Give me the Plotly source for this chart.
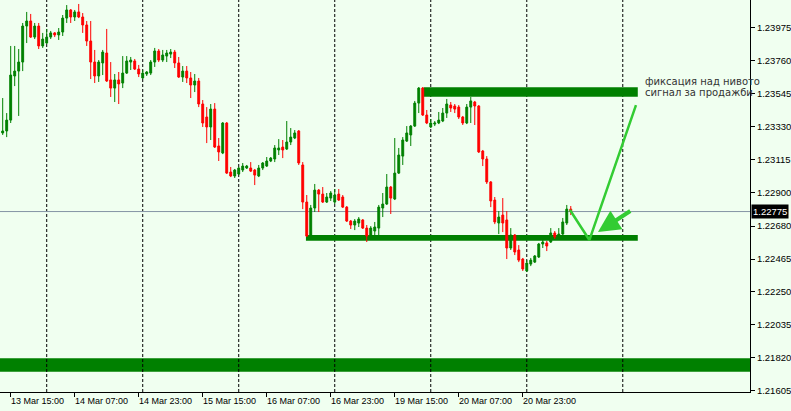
import plotly.graph_objects as go

# ---- data (EURUSD-like H1 candles) ----
open_ = [1.23288, 1.23301, 1.23372, 1.23660, 1.23692, 1.23751, 1.23986, 1.24019, 1.23914, 1.23986,
         1.23856, 1.23875, 1.23914, 1.23941, 1.23928, 1.23947, 1.24038, 1.24091, 1.24045, 1.24078,
         1.24045, 1.23993, 1.23888, 1.23751, 1.23660, 1.23745, 1.23810, 1.23634, 1.23581, 1.23634,
         1.23614, 1.23679, 1.23751, 1.23758, 1.23705, 1.23647, 1.23673, 1.23679, 1.23751, 1.23823,
         1.23764, 1.23790, 1.23803, 1.23816, 1.23745, 1.23653, 1.23692, 1.23647, 1.23601, 1.23627,
         1.23477, 1.23392, 1.23327, 1.23444, 1.23203, 1.23157, 1.23353, 1.23033, 1.23007, 1.23020,
         1.23046, 1.23059, 1.23059, 1.23046, 1.23007, 1.23059, 1.23072, 1.23105, 1.23118, 1.23177,
         1.23196, 1.23183, 1.23229, 1.23255, 1.23301, 1.23079, 1.22837, 1.22622, 1.22798, 1.22915,
         1.22889, 1.22837, 1.22863, 1.22837, 1.22889, 1.22870, 1.22804, 1.22713, 1.22687, 1.22700,
         1.22720, 1.22667, 1.22622, 1.22648, 1.22667, 1.22798, 1.22824, 1.22935, 1.22857, 1.23026,
         1.23137, 1.23235, 1.23275, 1.23333, 1.23483, 1.23581, 1.23405, 1.23327, 1.23346, 1.23353,
         1.23366, 1.23418, 1.23470, 1.23464, 1.23457, 1.23392, 1.23353, 1.23457, 1.23490, 1.23464,
         1.23170, 1.23118, 1.22968, 1.22850, 1.22700, 1.22752, 1.22720, 1.22537, 1.22622, 1.22524,
         1.22465, 1.22387, 1.22432, 1.22445, 1.22478, 1.22563, 1.22570, 1.22576, 1.22635, 1.22615,
         1.22628, 1.22700, 1.22791]
high = [1.23516, 1.23418, 1.23856, 1.23856, 1.23836, 1.24006, 1.24078, 1.24065, 1.24006, 1.24006,
        1.23941, 1.23967, 1.23954, 1.23947, 1.23973, 1.24058, 1.24123, 1.24097, 1.24091, 1.24130,
        1.24071, 1.24019, 1.24019, 1.23830, 1.23764, 1.23830, 1.23967, 1.23751, 1.23673, 1.23686,
        1.23790, 1.23790, 1.23784, 1.23771, 1.23732, 1.23699, 1.23692, 1.23764, 1.23843, 1.23836,
        1.23830, 1.23830, 1.23836, 1.23830, 1.23784, 1.23725, 1.23725, 1.23686, 1.23673, 1.23647,
        1.23503, 1.23457, 1.23477, 1.23483, 1.23255, 1.23359, 1.23359, 1.23066, 1.23053, 1.23066,
        1.23092, 1.23079, 1.23098, 1.23053, 1.23079, 1.23098, 1.23131, 1.23131, 1.23209, 1.23248,
        1.23242, 1.23366, 1.23320, 1.23307, 1.23307, 1.23098, 1.22883, 1.22818, 1.22955, 1.22922,
        1.22935, 1.22896, 1.22909, 1.22922, 1.22922, 1.22883, 1.22811, 1.22720, 1.22726, 1.22739,
        1.22726, 1.22687, 1.22680, 1.22707, 1.22818, 1.22896, 1.23020, 1.22942, 1.23255, 1.23190,
        1.23261, 1.23333, 1.23340, 1.23497, 1.23588, 1.23588, 1.23438, 1.23379, 1.23366, 1.23425,
        1.23451, 1.23510, 1.23490, 1.23477, 1.23470, 1.23399, 1.23477, 1.23523, 1.23497, 1.23470,
        1.23177, 1.23137, 1.22974, 1.22870, 1.22778, 1.22863, 1.22778, 1.22667, 1.22628, 1.22556,
        1.22472, 1.22458, 1.22472, 1.22491, 1.22570, 1.22589, 1.22583, 1.22667, 1.22648, 1.22667,
        1.22733, 1.22818, 1.22811]
low = [1.23275, 1.23261, 1.23353, 1.23594, 1.23399, 1.23692, 1.23875, 1.23908, 1.23901, 1.23836,
       1.23843, 1.23869, 1.23901, 1.23914, 1.23895, 1.23921, 1.24006, 1.24006, 1.24019, 1.24038,
       1.23941, 1.23856, 1.23640, 1.23614, 1.23621, 1.23666, 1.23621, 1.23523, 1.23490, 1.23477,
       1.23581, 1.23673, 1.23699, 1.23699, 1.23653, 1.23640, 1.23660, 1.23666, 1.23719, 1.23751,
       1.23751, 1.23751, 1.23777, 1.23712, 1.23647, 1.23621, 1.23614, 1.23516, 1.23555, 1.23457,
       1.23327, 1.23222, 1.23242, 1.23190, 1.23105, 1.23150, 1.23020, 1.23000, 1.22994, 1.23013,
       1.23033, 1.23053, 1.23033, 1.22948, 1.23000, 1.23046, 1.23066, 1.23098, 1.23098, 1.23144,
       1.23124, 1.23177, 1.23209, 1.23248, 1.23079, 1.22791, 1.22609, 1.22609, 1.22772, 1.22772,
       1.22831, 1.22831, 1.22844, 1.22824, 1.22844, 1.22798, 1.22707, 1.22661, 1.22654, 1.22674,
       1.22661, 1.22576, 1.22615, 1.22615, 1.22615, 1.22739, 1.22818, 1.22759, 1.22850, 1.23020,
       1.23079, 1.23229, 1.23203, 1.23327, 1.23418, 1.23399, 1.23346, 1.23320, 1.23333, 1.23346,
       1.23359, 1.23386, 1.23425, 1.23418, 1.23379, 1.23340, 1.23346, 1.23353, 1.23340, 1.23157,
       1.23072, 1.22955, 1.22804, 1.22693, 1.22628, 1.22641, 1.22465, 1.22524, 1.22491, 1.22445,
       1.22387, 1.22380, 1.22419, 1.22439, 1.22472, 1.22537, 1.22517, 1.22570, 1.22596, 1.22609,
       1.22622, 1.22687, 1.22752]
close = [1.23301, 1.23372, 1.23666, 1.23692, 1.23751, 1.23986, 1.24019, 1.23914, 1.23986, 1.23856,
         1.23901, 1.23914, 1.23941, 1.23928, 1.23947, 1.24038, 1.24091, 1.24045, 1.24078, 1.24045,
         1.23993, 1.23888, 1.23751, 1.23660, 1.23751, 1.23816, 1.23627, 1.23581, 1.23634, 1.23608,
         1.23679, 1.23758, 1.23764, 1.23705, 1.23673, 1.23679, 1.23686, 1.23751, 1.23823, 1.23764,
         1.23797, 1.23810, 1.23816, 1.23745, 1.23653, 1.23692, 1.23647, 1.23601, 1.23627, 1.23477,
         1.23353, 1.23327, 1.23444, 1.23196, 1.23164, 1.23353, 1.23026, 1.23007, 1.23046, 1.23059,
         1.23072, 1.23072, 1.23039, 1.23013, 1.23059, 1.23092, 1.23105, 1.23124, 1.23190, 1.23190,
         1.23177, 1.23229, 1.23261, 1.23288, 1.23092, 1.22837, 1.22615, 1.22798, 1.22915, 1.22889,
         1.22837, 1.22870, 1.22896, 1.22883, 1.22850, 1.22804, 1.22713, 1.22687, 1.22713, 1.22726,
         1.22667, 1.22615, 1.22667, 1.22674, 1.22804, 1.22824, 1.22935, 1.22863, 1.23026, 1.23144,
         1.23242, 1.23288, 1.23333, 1.23483, 1.23581, 1.23405, 1.23353, 1.23353, 1.23353, 1.23372,
         1.23418, 1.23477, 1.23451, 1.23444, 1.23392, 1.23353, 1.23457, 1.23497, 1.23464, 1.23164,
         1.23118, 1.22968, 1.22844, 1.22707, 1.22739, 1.22700, 1.22537, 1.22622, 1.22511, 1.22458,
         1.22400, 1.22439, 1.22458, 1.22485, 1.22563, 1.22576, 1.22550, 1.22635, 1.22609, 1.22628,
         1.22707, 1.22791, 1.22775]
bar_index = list(range(len(close)))

day_start_bars = [11, 35, 59, 83, 107, 131, 155]
time_label_bars = [2, 18, 34, 50, 66, 82, 98, 114, 130]
time_labels = ["13 Mar 15:00", "14 Mar 07:00", "14 Mar 23:00", "15 Mar 15:00", "16 Mar 07:00",
               "16 Mar 23:00", "19 Mar 15:00", "20 Mar 07:00", "20 Mar 23:00"]
price_ticks = [1.21605, 1.21820, 1.22035, 1.22250, 1.22465, 1.22680, 1.22900,
               1.23115, 1.23330, 1.23545, 1.23760, 1.23975]
price_tick_labels = ["1.21605", "1.21820", "1.22035", "1.22250", "1.22465", "1.22680", "1.22900",
                     "1.23115", "1.23330", "1.23545", "1.23760", "1.23975"]
last_price = 1.22775

resistance_zone = [105.25, 158.75, 1.23525, 1.23586]   # x0, x1, y0, y1
support_zone = [75.8, 158.75, 1.22584, 1.22622]
lower_zone = [1.21729, 1.21817]
signal_x = [141.8, 146.65, 158.3]
signal_y = [1.22785, 1.22589, 1.23470]
arrow_tail = [157.25, 1.22785]
arrow_head = [148.8, 1.22641]
note_lines = ["фиксация над нивото", "сигнал за продажби"]
note_pos = [160.1, 1.23627, 1.23549]

BG = "#F0FFF0"
GREEN = "#008000"
RED = "#FF0000"
LIME = "#33CC33"

fig = go.Figure()
fig.add_trace(go.Candlestick(
    x=bar_index, open=open_, high=high, low=low, close=close,
    increasing=dict(line=dict(color=GREEN, width=1), fillcolor=GREEN),
    decreasing=dict(line=dict(color=RED, width=1), fillcolor=RED),
    whiskerwidth=0, hoverinfo="skip", showlegend=False))
fig.add_trace(go.Scatter(x=signal_x, y=signal_y, mode="lines",
                         line=dict(color=LIME, width=2.5), hoverinfo="skip", showlegend=False))

shapes = []
shapes.append(dict(type="rect", xref="paper", yref="y", x0=0, x1=1, y0=lower_zone[0], y1=lower_zone[1],
                   fillcolor=GREEN, line=dict(width=0), layer="below"))
for z in (resistance_zone, support_zone):
    shapes.append(dict(type="rect", xref="x", yref="y", x0=z[0], x1=z[1], y0=z[2], y1=z[3],
                       fillcolor=GREEN, line=dict(width=0), layer="below"))
for d in day_start_bars:
    shapes.append(dict(type="line", xref="x", yref="paper", x0=d, x1=d, y0=0, y1=1,
                       line=dict(color="black", width=1, dash="3px,2px"), layer="below"))
shapes.append(dict(type="line", xref="paper", yref="y", x0=0, x1=1, y0=last_price, y1=last_price,
                   line=dict(color="#8494A4", width=1), layer="below"))

annotations = []
for b, t in zip(time_label_bars, time_labels):
    annotations.append(dict(x=b, y=0, xref="x", yref="paper", text=t, showarrow=False,
                            xanchor="left", yanchor="top", xshift=-2, yshift=-2,
                            font=dict(size=9, color="black", family="Liberation Sans, Arial")))
annotations.append(dict(x=1, y=last_price, xref="paper", yref="y", text=f"{last_price:.5f}",
                        showarrow=False, xanchor="left", yanchor="middle", xshift=1,
                        bgcolor="black", borderpad=1,
                        font=dict(size=9.5, color="white", family="Liberation Sans, Arial")))
annotations.append(dict(x=arrow_head[0], y=arrow_head[1], ax=arrow_tail[0], ay=arrow_tail[1],
                        xref="x", yref="y", axref="x", ayref="y", text="", showarrow=True,
                        arrowhead=2, arrowsize=1.1, arrowwidth=4, arrowcolor=LIME))
for txt, yy in zip(note_lines, note_pos[1:]):
    annotations.append(dict(x=note_pos[0], y=yy, xref="x", yref="y", text=txt, showarrow=False,
                            xanchor="left", yanchor="middle",
                            font=dict(size=10, color="#333333", family="DejaVu Sans")))

fig.update_layout(
    width=791, height=411, margin=dict(l=0, r=41, t=0, b=19),
    paper_bgcolor=BG, plot_bgcolor=BG, showlegend=False, boxgap=0.33,
    font=dict(family="Liberation Sans, Arial", size=9, color="black"),
    shapes=shapes, annotations=annotations,
    xaxis=dict(range=[-0.675, 186.8], showgrid=False, zeroline=False, showline=True,
               linecolor="black", linewidth=1, ticks="outside", ticklen=4, tickcolor="black",
               tickvals=time_label_bars, ticktext=[""] * len(time_label_bars),
               rangeslider=dict(visible=False), automargin=False, fixedrange=True),
    yaxis=dict(side="right", range=[1.21597, 1.24156], showgrid=False, zeroline=False,
               showline=True, linecolor="black", linewidth=1, ticks="outside", ticklen=4,
               tickcolor="black", tickvals=price_ticks, ticktext=price_tick_labels,
               tickfont=dict(size=9.5, color="black", family="Liberation Sans, Arial"),
               automargin=False, fixedrange=True),
)
fig.write_html("out.html", config={"displayModeBar": False},
               post_script="document.body.style.margin='0';document.body.style.overflow='hidden';"
                           "document.body.style.background='" + BG + "';")
